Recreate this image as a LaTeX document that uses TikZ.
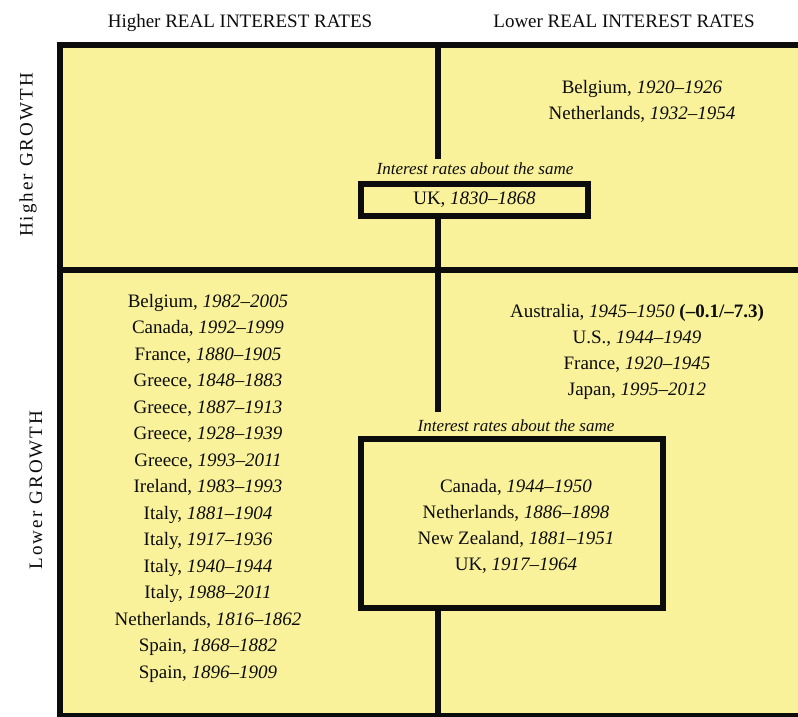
\documentclass[tikz,border=0pt]{standalone}
\usepackage{fontspec}
\setmainfont{Liberation Serif}
\definecolor{qyellow}{RGB}{249,242,154}
\definecolor{qink}{RGB}{12,12,12}
\begin{document}
\begin{tikzpicture}[x=1pt,y=-1pt,
  grid/.style={line width=6pt, draw=qink},
  body/.style={font=\fontsize{19}{23}\selectfont, anchor=base, inner sep=0, text=qink},
  note/.style={font=\fontsize{17}{20}\selectfont\itshape, anchor=base, inner sep=0, text=qink},
  boxnode/.style={draw=qink, line width=6pt, fill=qyellow, inner sep=0, anchor=center},
  side/.style={font=\fontsize{19}{23}\selectfont\addfontfeature{LetterSpace=11}, rotate=90, inner sep=0, text=qink}]
\useasboundingbox (0,0) rectangle (798,716);
\clip (0,0) rectangle (798,716);
\fill[white] (0,0) rectangle (798,716);
% frame
\fill[qyellow] (59.5,45) rectangle (830,716);
\draw[grid] (59.5,45) rectangle (830,716);
\draw[grid] (59.5,269.5) -- (830,269.5);
\coordinate (vtop) at (438,45);
\coordinate (vbot) at (438,716);
% labels
\node[note] (n1) at (475,174) {Interest rates about the same};
\node[note] (n2) at (516,431) {Interest rates about the same};
% boxes
\node[boxnode, minimum width=227pt, minimum height=32pt, font=\fontsize{19}{23}\selectfont, text=qink] (ukbox) at (474.5,200) {UK, \textit{1830--1868}};
\node[boxnode, minimum width=302pt, minimum height=169pt] (lowbox) at (512,523.5) {};
\draw[grid, shorten >=3pt] (vtop) -- (vtop |- n1.north);
\draw[grid, shorten >=7pt] (vtop |- ukbox.south) -- (vtop |- n2.north);
\draw[grid] (vtop |- lowbox.south) -- (vbot);
% headers
\node[body] (h1) at (240,27) {Higher REAL INTEREST RATES};
\node[body] (h2) at (624,27) {Lower REAL INTEREST RATES};
\node[side] (s1) at (28,155) {Higher GROWTH};
\node[side] (s2) at (36,490) {Lower GROWTH};
% upper right
\node[body] (ur1) at (642,93) {Belgium, \textit{1920--1926}};
\node[body] (ur2) at (642,119) {Netherlands, \textit{1932--1954}};
% lower right
\node[body] (lr1) at (637,317) {Australia, \textit{1945--1950} \textbf{(--0.1/--7.3)}};
\node[body] (lr2) at (637,343) {U.S., \textit{1944--1949}};
\node[body] (lr3) at (637,369) {France, \textit{1920--1945}};
\node[body] (lr4) at (637,395) {Japan, \textit{1995--2012}};
% lower box
\node[body] (lb1) at (516,492) {Canada, \textit{1944--1950}};
\node[body] (lb2) at (516,518) {Netherlands, \textit{1886--1898}};
\node[body] (lb3) at (516,544) {New Zealand, \textit{1881--1951}};
\node[body] (lb4) at (516,570) {UK, \textit{1917--1964}};
% left column
\foreach \t [count=\i from 0] in {%
  {Belgium, \textit{1982--2005}},
  {Canada, \textit{1992--1999}},
  {France, \textit{1880--1905}},
  {Greece, \textit{1848--1883}},
  {Greece, \textit{1887--1913}},
  {Greece, \textit{1928--1939}},
  {Greece, \textit{1993--2011}},
  {Ireland, \textit{1983--1993}},
  {Italy, \textit{1881--1904}},
  {Italy, \textit{1917--1936}},
  {Italy, \textit{1940--1944}},
  {Italy, \textit{1988--2011}},
  {Netherlands, \textit{1816--1862}},
  {Spain, \textit{1868--1882}},
  {Spain, \textit{1896--1909}}}
  \node[body, name=lc\i] at (208,307+26.5*\i) {\t};
\end{tikzpicture}
\end{document}
